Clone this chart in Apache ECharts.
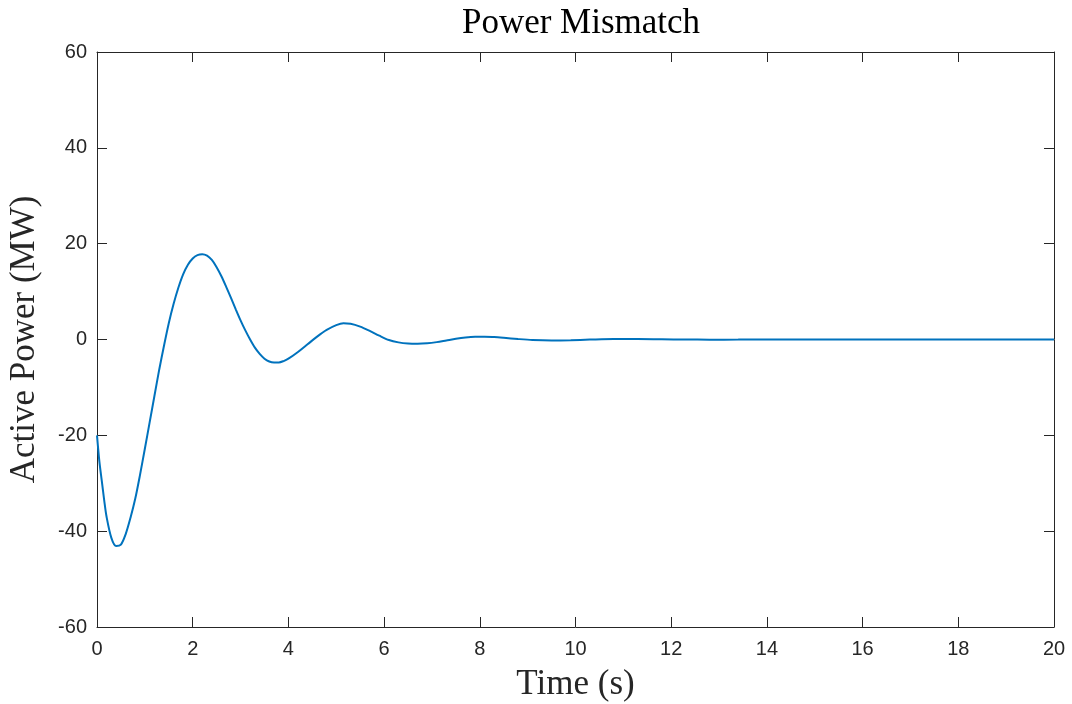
<!DOCTYPE html>
<html>
<head>
<meta charset="utf-8">
<script src="https://cdn.jsdelivr.net/npm/echarts@6/dist/echarts.min.js"></script>
<style>html,body{margin:0;padding:0;background:#fff;}#c{width:1072px;height:704px;}</style>
</head>
<body>
<div id="c"></div>
<script>
// Time (s)
var timeS = [0,0.05,0.1,0.15,0.2,0.3,0.4,0.5,0.6,0.7,0.8,0.9,1.0,1.1,1.2,1.3,1.4,1.5,1.6,1.7,1.8,1.9,2.0,2.1,2.2,2.3,2.4,2.5,2.6,2.7,2.8,2.9,3.0,3.1,3.2,3.3,3.4,3.5,3.6,3.7,3.8,3.9,4.0,4.2,4.4,4.6,4.8,5.0,5.15,5.3,5.5,5.7,5.9,6.1,6.3,6.5,6.7,6.9,7.1,7.3,7.5,7.7,7.9,8.1,8.3,8.5,8.8,9.1,9.5,9.9,10.3,10.8,11.3,11.8,12.3,12.8,13.4,14,15,16,17,18,19,20];
// Active power mismatch (MW)
var powerMW = [-20,-25.5,-29.5,-33.5,-37,-41.4,-43.1,-42.8,-40.6,-37.2,-33.2,-28.2,-22.8,-17.3,-11.8,-6.3,-1.3,3.4,7.4,10.8,13.6,15.6,16.9,17.6,17.8,17.5,16.6,15.1,13.2,11.0,8.7,6.3,4.0,1.9,0.0,-1.7,-3.0,-4.0,-4.6,-4.8,-4.8,-4.5,-4.0,-2.6,-1.0,0.6,2.0,3.0,3.4,3.3,2.7,1.8,0.8,-0.1,-0.6,-0.85,-0.9,-0.8,-0.55,-0.2,0.15,0.42,0.58,0.6,0.5,0.35,0.1,-0.1,-0.2,-0.15,-0.02,0.1,0.1,0.04,-0.01,-0.03,-0.02,0,0.01,0,0,0,0,0];
var xTicks = [0,2,4,6,8,10,12,14,16,18,20];
var yTicks = [-60,-40,-20,0,20,40,60];

var seriesData = timeS.map(function(t,i){return [t, powerMW[i]];});
var axisColor = '#262626';
var chart = echarts.init(document.getElementById('c'));
var tickStyle = {show:true, inside:true, length:10, lineStyle:{color:axisColor, width:1}};
chart.setOption({
  animation:false,
  backgroundColor:'#fff',
  title:{
    text:'Power Mismatch', left:576, textAlign:'center', top:1,
    textStyle:{fontFamily:'Liberation Serif', fontSize:35, fontWeight:'normal', color:'#000'}
  },
  grid:{left:97, right:18, top:52, bottom:77, containLabel:false, outerBoundsMode:'none'},
  xAxis:[{
    type:'value', min:xTicks[0], max:xTicks[xTicks.length-1], interval:2,
    name:'Time (s)', nameLocation:'middle', nameGap:40,
    nameTextStyle:{fontFamily:'Liberation Serif', fontSize:35, color:axisColor},
    axisLine:{show:true, onZero:false, lineStyle:{color:axisColor, width:1}},
    axisTick:tickStyle,
    axisLabel:{fontFamily:'Liberation Sans', fontSize:20, color:axisColor, margin:12},
    splitLine:{show:false}
  },{
    type:'value', position:'top', min:xTicks[0], max:xTicks[xTicks.length-1], interval:2,
    axisLine:{show:true, onZero:false, lineStyle:{color:axisColor, width:1}},
    axisTick:tickStyle, axisLabel:{show:false}, splitLine:{show:false}
  }],
  yAxis:[{
    type:'value', min:yTicks[0], max:yTicks[yTicks.length-1], interval:20,
    name:'Active Power (MW)', nameLocation:'middle', nameGap:55,
    nameTextStyle:{fontFamily:'Liberation Serif', fontSize:35, color:axisColor},
    axisLine:{show:true, onZero:false, lineStyle:{color:axisColor, width:1}},
    axisTick:tickStyle,
    axisLabel:{fontFamily:'Liberation Sans', fontSize:20, color:axisColor, margin:10},
    splitLine:{show:false}
  },{
    type:'value', position:'right', min:yTicks[0], max:yTicks[yTicks.length-1], interval:20,
    axisLine:{show:true, onZero:false, lineStyle:{color:axisColor, width:1}},
    axisTick:tickStyle, axisLabel:{show:false}, splitLine:{show:false}
  }],
  series:[{
    type:'line', data:seriesData, smooth:0.3, showSymbol:false,
    lineStyle:{color:'#0072BD', width:2}
  }]
});
</script>
</body>
</html>
